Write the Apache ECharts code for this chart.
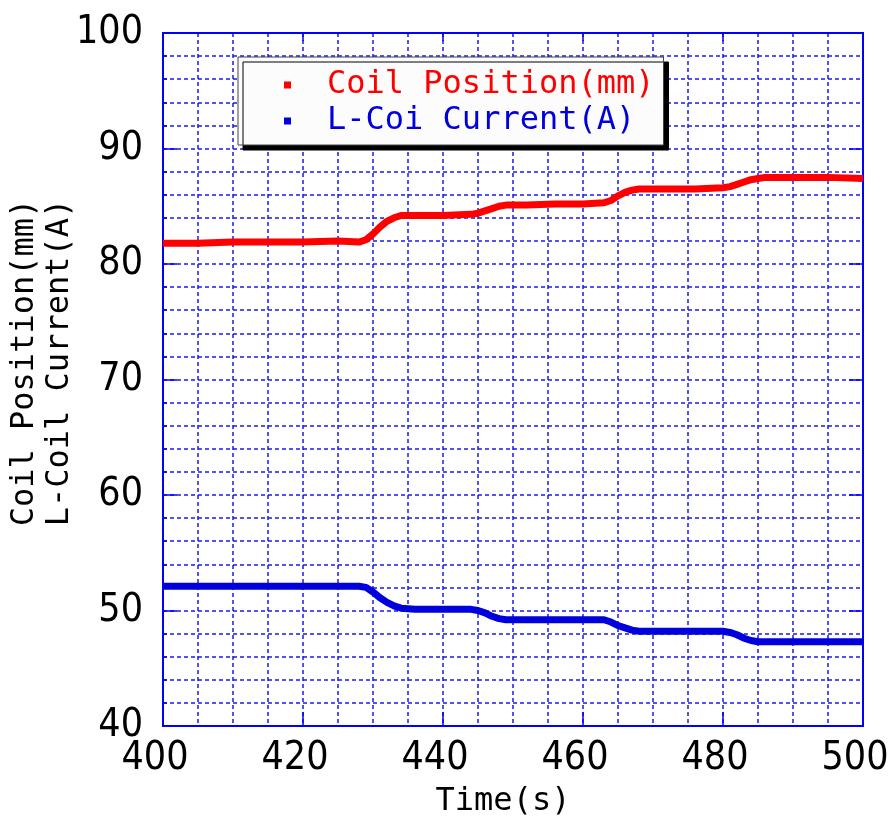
<!DOCTYPE html>
<html><head><meta charset="utf-8">
<script src="https://cdn.jsdelivr.net/npm/echarts@6/dist/echarts.min.js"></script>
<style>html,body{margin:0;padding:0;background:#fff}#c{width:889px;height:821px}</style>
</head><body><div id="c"></div>
<script>
const seriesNames = ['Coil Position(mm)', 'L-Coi Current(A)'];
const posTime = [400,405,410,415,420,425,428,429,430,431,432,433,434,436,440,444,445,446,447,448,449,452,456,460,463,464,465,466,467,468,472,476,480,481,482,483,484,485,486,490,495,500];
const posVal  = [81.8,81.8,81.9,81.9,81.9,82.0,81.9,82.1,82.6,83.2,83.7,84.0,84.2,84.2,84.2,84.3,84.4,84.6,84.8,85.0,85.1,85.1,85.2,85.2,85.3,85.5,85.9,86.2,86.4,86.5,86.5,86.5,86.6,86.7,86.9,87.1,87.3,87.4,87.5,87.5,87.5,87.4];
const curTime = [400,410,420,428,429,430,431,432,433,434,436,440,444,445,446,447,448,449,452,456,460,463,464,465,466,467,468,472,476,480,481,482,483,484,485,486,490,495,500];
const curVal  = [52.1,52.1,52.1,52.1,52.0,51.6,51.1,50.7,50.4,50.2,50.1,50.1,50.1,50.0,49.8,49.5,49.3,49.2,49.2,49.2,49.2,49.2,49.0,48.7,48.5,48.3,48.2,48.2,48.2,48.2,48.1,47.9,47.6,47.4,47.3,47.3,47.3,47.3,47.3];
const xMin = 400, xMax = 500, xStep = 20;
const yMin = 40, yMax = 100, yStep = 10;
const xName = 'Time(s)';
const yName = 'Coil Position(mm)\nL-Coil Current(A)';

const FONT = "'DejaVu Sans Mono', monospace";
const NUMFONT = "'Liberation Sans Narrow', 'DejaVu Sans Condensed', 'DejaVu Sans Mono', sans-serif";
const BLUE = '#0000ff';
const GRIDC = '#1a1aee';
const chart = echarts.init(document.getElementById('c'));
const pair = (t, v) => t.map((x, i) => [x, v[i]]);
const dotted = {color: GRIDC, width: 1.5, type: [4, 3]};

chart.setOption({
  animation: false,
  grid: {left: 163, right: 26, top: 33, bottom: 95, show: true, borderColor: BLUE, borderWidth: 2, backgroundColor: '#fff', outerBoundsMode: 'none', containLabel: false},
  legend: {
    orient: 'vertical', left: 238, top: 57,
    padding: [12, 9, 8, 46], itemGap: 4,
    backgroundColor: '#fcfcfc', borderColor: '#444', borderWidth: 1,
    shadowColor: '#000', shadowOffsetX: 5, shadowOffsetY: 5, shadowBlur: 0,
    icon: 'rect', itemWidth: 7, itemHeight: 7,
    textStyle: {fontFamily: FONT, fontSize: 32, padding: [0, 0, 0, 31], lineHeight: 31},
    data: [
      {name: seriesNames[0], textStyle: {color: '#ff0000'}},
      {name: seriesNames[1], textStyle: {color: '#0000dd'}}
    ]
  },
  xAxis: [{
    type: 'value', min: xMin, max: xMax, interval: xStep,
    name: xName, nameLocation: 'middle', nameGap: 60, nameMoveOverlap: false,
    nameTextStyle: {fontFamily: FONT, fontSize: 32, color: '#000', padding: [0, 20, 0, 0]},
    axisLine: {show: true, lineStyle: {color: BLUE, width: 2}},
    axisTick: {show: true, inside: true, length: 14, lineStyle: {color: BLUE, width: 1.5}},
    splitLine: {show: true, lineStyle: dotted},
    minorSplitLine: {show: true, lineStyle: dotted},
    minorTick: {show: false, splitNumber: 4},
    axisLabel: {fontFamily: NUMFONT, fontSize: 39, color: '#000', margin: 13, padding: [0, 16, 0, 0]}
  }, {
    type: 'value', position: 'top', min: xMin, max: xMax, interval: xStep,
    axisLine: {show: true, lineStyle: {color: BLUE, width: 2}},
    axisTick: {show: true, inside: true, length: 8, lineStyle: {color: BLUE, width: 1.5}},
    axisLabel: {show: false}, splitLine: {show: false}
  }],
  yAxis: [{
    type: 'value', min: yMin, max: yMax, interval: yStep,
    name: yName, nameLocation: 'middle', nameGap: 86, nameRotate: 90, nameMoveOverlap: false,
    nameTextStyle: {fontFamily: FONT, fontSize: 32, color: '#000', lineHeight: 35, padding: [0, 0, 0, 34]},
    axisLine: {show: true, lineStyle: {color: BLUE, width: 2}},
    axisTick: {show: true, inside: true, length: 14, lineStyle: {color: BLUE, width: 1.5}},
    minorTick: {show: true, splitNumber: 5, length: 4, lineStyle: {color: BLUE, width: 1.5}},
    splitLine: {show: true, lineStyle: dotted},
    minorSplitLine: {show: true, lineStyle: dotted},
    axisLabel: {fontFamily: NUMFONT, fontSize: 39, color: '#000', margin: 20, padding: [0, 0, 14, 0]}
  }, {
    type: 'value', position: 'right', min: yMin, max: yMax, interval: yStep,
    axisLine: {show: true, lineStyle: {color: BLUE, width: 2}},
    axisTick: {show: true, inside: true, length: 14, lineStyle: {color: BLUE, width: 1.5}},
    axisLabel: {show: false}, splitLine: {show: false}
  }],
  series: [
    {name: seriesNames[0], type: 'line', data: pair(posTime, posVal), symbol: 'none',
     itemStyle: {color: '#ff0000'}, lineStyle: {color: '#ff0000', width: 7}, z: 5},
    {name: seriesNames[1], type: 'line', data: pair(curTime, curVal), symbol: 'none',
     itemStyle: {color: '#0000dd'}, lineStyle: {color: '#0000dd', width: 7}, z: 5}
  ]
});
</script></body></html>
